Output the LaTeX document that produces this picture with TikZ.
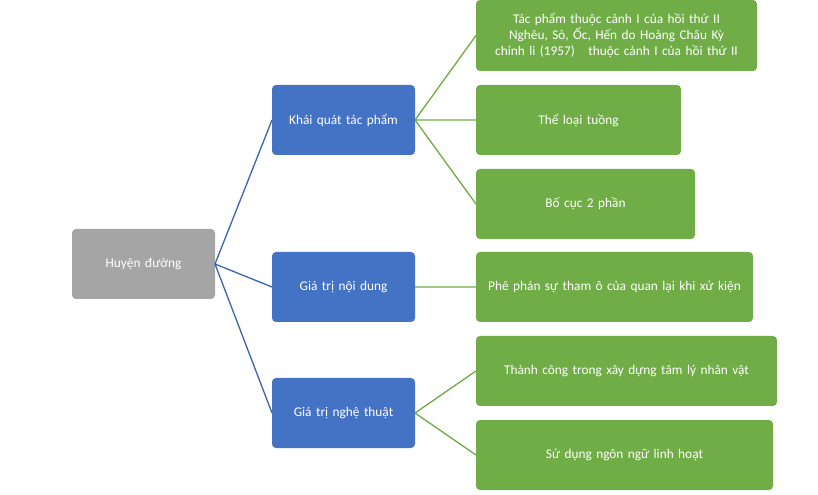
\documentclass[tikz,border=0pt]{standalone}
\usepackage{fontspec}
\setmainfont{Carlito}
\definecolor{gbox}{HTML}{A5A5A5}
\definecolor{bbox}{HTML}{4472C4}
\definecolor{grbox}{HTML}{70AD47}
\begin{document}
\begin{tikzpicture}[x=0.75pt,y=-0.75pt,
 box/.style={text=white,font=\fontsize{10}{12}\selectfont,align=center},
 ln/.style={line width=1pt}]
\useasboundingbox (0,0) rectangle (818,495);
\newcommand{\bx}[7]{\fill[#6,rounded corners=3pt] (#2,#3) rectangle (#4,#5);
 \pgfmathsetmacro{\tw}{(#4-#2-16)*0.75}
 \node[box,text width=\tw pt] (#1) at ({(#2+#4)/2},{(#3+#5)/2}) {#7};
 \coordinate (#1w) at (#2,{(#3+#5)/2}); \coordinate (#1e) at (#4,{(#3+#5)/2});}
\bx{r}{72}{229}{215}{299}{gbox}{Huyện đường}
\bx{a}{272}{85}{415}{155}{bbox}{Khái quát tác phẩm}
\bx{b}{272}{252}{415}{322}{bbox}{Giá trị nội dung}
\bx{c}{272}{378}{415}{448}{bbox}{Giá trị nghệ thuật}
\bx{t1}{476}{0}{757}{71}{grbox}{Tác phẩm thuộc cảnh I của hồi thứ II Nghêu, Sò, Ốc, Hến do Hoàng Châu Kỳ chỉnh li (1957)\ \ \ thuộc cảnh I của hồi thứ II}
\bx{t2}{476}{85}{681}{155}{grbox}{Thể loại tuồng}
\bx{t3}{476}{169}{695}{239}{grbox}{Bố cục 2 phần}
\bx{t4}{476}{252}{753}{322}{grbox}{Phê phán sự tham ô của quan lại khi xử kiện}
\bx{t5}{476}{336}{777}{406}{grbox}{Thành công trong xây dựng tâm lý nhân vật}
\bx{t6}{476}{420}{773}{490}{grbox}{Sử dụng ngôn ngữ linh hoạt}
\draw[ln,bbox!90!black] (re) -- (aw) (re) -- (bw) (re) -- (cw);
\draw[ln,grbox] (ae) -- (t1w) (ae) -- (t2w) (ae) -- (t3w) (be) -- (t4w) (ce) -- (t5w) (ce) -- (t6w);
\end{tikzpicture}
\end{document}
